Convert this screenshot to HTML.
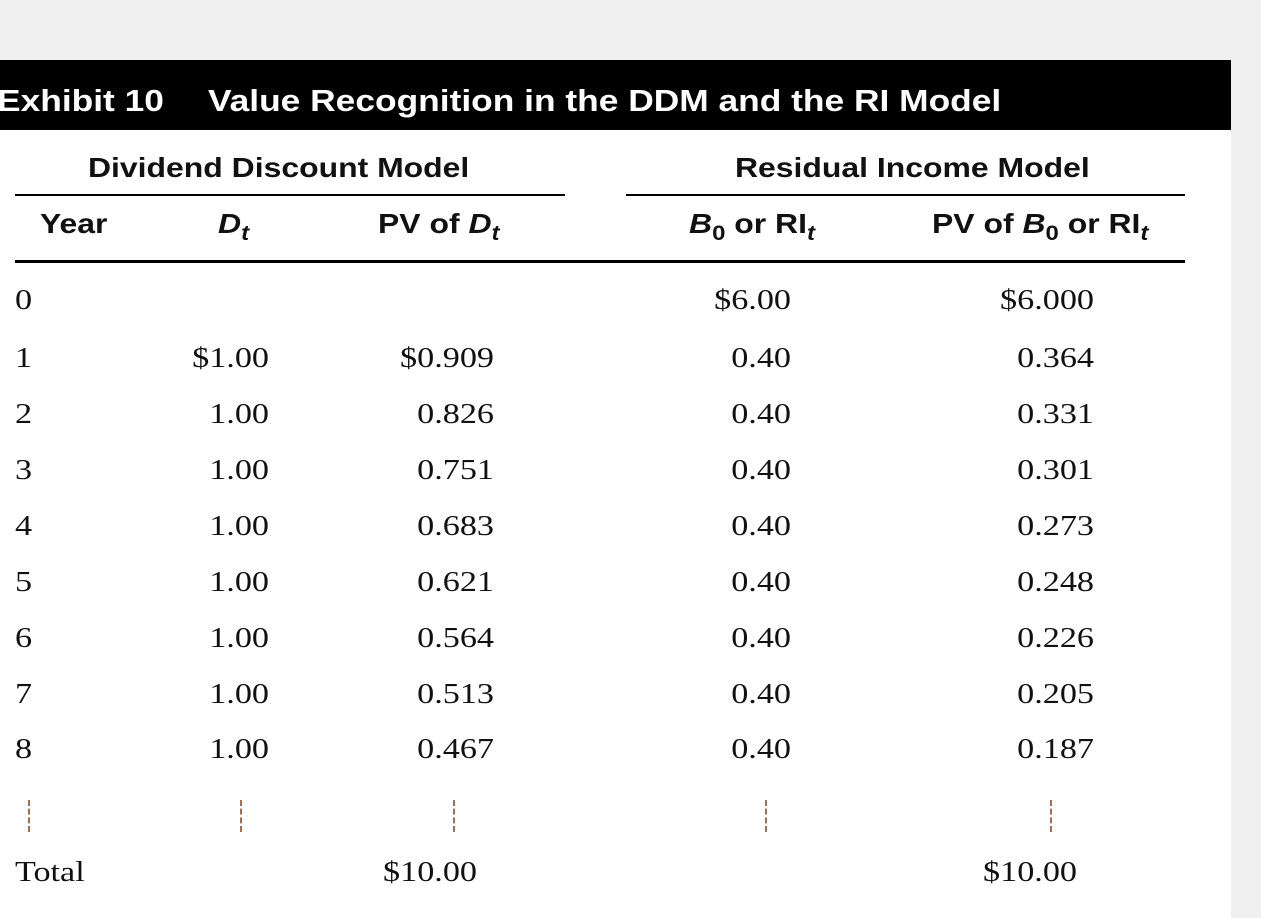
<!DOCTYPE html>
<html><head><style>
body{margin:0;width:1261px;height:918px;background:#f0f0f0;position:relative;overflow:hidden}
.w{position:absolute;left:0;top:60px;width:1231px;height:858px;background:#fff}
.bar{position:absolute;left:0;top:60px;width:1231px;height:70px;background:#000}
.t{position:absolute;white-space:nowrap;line-height:1}
.ti{color:#fff;font:bold 31px "Liberation Sans",sans-serif;top:83px;transform:scaleX(1.14);transform-origin:left}
.h{font:bold 28px "Liberation Sans",sans-serif;color:#111;transform:scaleX(1.14);transform-origin:left}
.s{font-size:21px;position:relative;top:7px}
.n{font:28px "Liberation Serif",serif;color:#111;transform:scaleX(1.22);transform-origin:left}
.r{text-align:right;width:200px;transform-origin:right}
.ln{position:absolute;background:#000}
.dot{position:absolute;top:800px;height:32px;border-left:2px dashed #a07050}
</style></head><body>
<div class="w"></div>
<div class="bar"></div>
<div class="t ti" style="left:-3px">Exhibit 10</div>
<div class="t ti" style="left:208px">Value Recognition in the DDM and the RI Model</div>

<div class="t h" style="left:88px;top:152px">Dividend Discount Model</div>
<div class="t h" style="left:735px;top:152px">Residual Income Model</div>
<div class="ln" style="left:15px;top:194px;width:550px;height:2px"></div>
<div class="ln" style="left:626px;top:194px;width:559px;height:2px"></div>

<div class="t h" style="left:40px;top:208px">Year</div>
<div class="t h" style="left:218px;top:208px"><i>D</i><i class="s">t</i></div>
<div class="t h" style="left:378px;top:208px">PV of <i>D</i><i class="s">t</i></div>
<div class="t h" style="left:689px;top:208px"><i>B</i><span class="s">0</span> or RI<i class="s">t</i></div>
<div class="t h" style="left:932px;top:208px">PV of <i>B</i><span class="s">0</span> or RI<i class="s">t</i></div>
<div class="ln" style="left:15px;top:260px;width:1170px;height:3px"></div>

<div id="rows"></div>
<script>
var ys=[300,358,414,470,526,582,638,694,749];
var d=[["0","","","$6.00","$6.000"],["1","$1.00","$0.909","0.40","0.364"],["2","1.00","0.826","0.40","0.331"],["3","1.00","0.751","0.40","0.301"],["4","1.00","0.683","0.40","0.273"],["5","1.00","0.621","0.40","0.248"],["6","1.00","0.564","0.40","0.226"],["7","1.00","0.513","0.40","0.205"],["8","1.00","0.467","0.40","0.187"]];
var rights=[0,269,494,791,1094],h="";
d.forEach(function(r,i){var top=ys[i]-15;
h+='<div class="t n" style="left:15px;top:'+top+'px">'+r[0]+'</div>';
for(var c=1;c<5;c++)h+='<div class="t n r" style="left:'+(rights[c]-200)+'px;top:'+top+'px">'+r[c]+'</div>';});
h+='<div class="t n" style="left:15px;top:857px">Total</div>';
h+='<div class="t n r" style="left:277px;top:857px">$10.00</div>';
h+='<div class="t n r" style="left:877px;top:857px">$10.00</div>';
[28,240,453,765,1050].forEach(function(x){h+='<div class="dot" style="left:'+x+'px"></div>'});
document.getElementById("rows").innerHTML=h;
</script>
</body></html>
